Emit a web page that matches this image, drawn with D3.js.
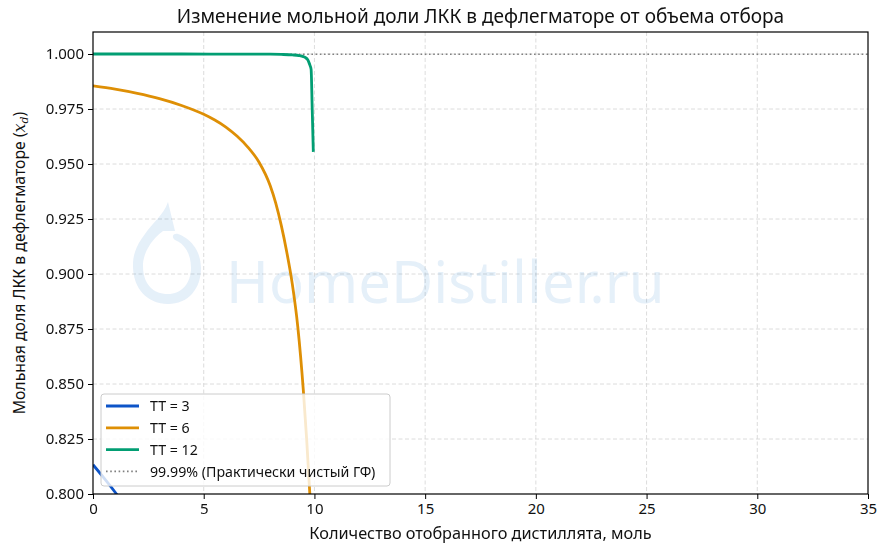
<!DOCTYPE html>
<html>
<head>
<meta charset="utf-8">
<script src="https://cdn.jsdelivr.net/npm/d3@7"></script>
<style>
  body { margin: 0; background: #fff; }
  svg { font-family: "Noto Sans", sans-serif; }
</style>
</head>
<body>
<div class="chart"></div>
<script>
// values
const seriesNames = ['TT = 3', 'TT = 6', 'TT = 12'];
const seriesColors = ['#0d54c8', '#de8f05', '#029e73'];

const tt3X = [0, 0.5, 1, 1.5, 2];
const tt3Y = [0.8133, 0.8072, 0.8008, 0.794, 0.787];

const tt6X = [0, 1, 2, 3, 4, 5, 5.5, 6, 6.5, 7, 7.5, 8, 8.25, 8.5, 8.75, 9, 9.25, 9.5, 9.65, 9.8, 9.9];
const tt6Y = [0.9855, 0.9840, 0.9821, 0.9797, 0.9766, 0.9726, 0.9700, 0.9668, 0.9627, 0.9576, 0.9508, 0.9402, 0.9323, 0.9222, 0.9100, 0.8955, 0.8759, 0.8470, 0.8247, 0.7987, 0.7787];

const tt12X = [0, 2, 4, 6, 8, 8.5, 9, 9.3, 9.5, 9.6, 9.7, 9.75, 9.8, 9.85, 9.9, 9.95];
const tt12Y = [1.0, 1.0, 1.0, 0.99995, 0.9999, 0.9998, 0.9996, 0.9993, 0.9988, 0.9983, 0.9973, 0.9962, 0.9948, 0.9930, 0.9750, 0.9555];

const purity = 0.9999;
const xTicks = [0, 5, 10, 15, 20, 25, 30, 35];
const yTicks = [0.800, 0.825, 0.850, 0.875, 0.900, 0.925, 0.950, 0.975, 1.000];

function drawChart() {
  const w = 887;
  const h = 551;
  const margin = { top: 32, right: 19, bottom: 57, left: 93 };
  const iw = w - margin.left - margin.right;
  const ih = h - margin.top - margin.bottom;

  const svg = d3.select('.chart')
    .append('svg')
    .attr('width', w)
    .attr('height', h);

  const x = d3.scaleLinear().domain([0, 35]).range([0, iw]);
  const y = d3.scaleLinear().domain([0.8, 1.01]).range([ih, 0]);

  const chart = svg.append('g')
    .attr('transform', `translate(${margin.left}, ${margin.top})`);

  svg.append('defs').append('clipPath')
    .attr('id', 'plot-clip')
    .append('rect')
    .attr('width', iw)
    .attr('height', ih);

  // grid
  chart.append('g')
    .selectAll('line')
    .data(xTicks.slice(1, -1))
    .enter()
    .append('line')
    .attr('x1', d => x(d)).attr('x2', d => x(d))
    .attr('y1', 0).attr('y2', ih)
    .attr('stroke', '#d3d3d3').attr('stroke-width', 0.8)
    .attr('stroke-dasharray', '4,2.5');

  chart.append('g')
    .selectAll('line')
    .data(yTicks.slice(1))
    .enter()
    .append('line')
    .attr('x1', 0).attr('x2', iw)
    .attr('y1', d => y(d)).attr('y2', d => y(d))
    .attr('stroke', '#d3d3d3').attr('stroke-width', 0.8)
    .attr('stroke-dasharray', '4,2.5');

  // watermark
  const wm = chart.append('g').attr('opacity', 0.11).attr('fill', '#1a73c9');
  wm.append('path')
    .attr('d', 'M 75 -72 C 70 -58 60 -52 52 -40 C 42 -27 40 -18 40 -8 C 40 15 55 30 75 30 C 95 30 108 15 108 -6 C 108 -25 96 -36 85 -40 C 80 -41 78 -37 82 -34 C 92 -30 98 -20 98 -6 C 98 10 88 20 75 20 C 60 20 50 10 50 -8 C 50 -22 60 -36 70 -43 L 82 -43 Z')
    .attr('transform', `translate(0, ${y(0.9)})`);
  wm.append('text')
    .attr('x', 133)
    .attr('y', y(0.9) + 29)
    .attr('font-size', 58)
    .text('HomeDistiller.ru');

  // reference line
  chart.append('line')
    .attr('x1', 0).attr('x2', iw)
    .attr('y1', y(purity)).attr('y2', y(purity))
    .attr('stroke', '#808080').attr('stroke-width', 1.6)
    .attr('stroke-dasharray', '1.6,2.6');

  const series = [
    d3.zip(tt3X, tt3Y),
    d3.zip(tt6X, tt6Y),
    d3.zip(tt12X, tt12Y)
  ];
  const curve = d3.line().curve(d3.curveMonotoneX).x(d => x(d[0])).y(d => y(d[1]));

  chart.append('g')
    .attr('clip-path', 'url(#plot-clip)')
    .selectAll('path')
    .data(series)
    .enter()
    .append('path')
    .attr('d', d => curve(d))
    .attr('fill', 'none')
    .attr('stroke', (d, i) => seriesColors[i])
    .attr('stroke-width', 2.8)
    .attr('stroke-linejoin', 'round');

  // axes
  const xAxis = chart.append('g')
    .attr('transform', `translate(0, ${ih})`)
    .call(d3.axisBottom(x).tickValues(xTicks).tickSize(5).tickPadding(4).tickFormat(d3.format('d')));
  const yAxis = chart.append('g')
    .call(d3.axisLeft(y).tickValues(yTicks).tickSize(5).tickPadding(4).tickFormat(d3.format('.3f')));
  [xAxis, yAxis].forEach(a => {
    a.select('.domain').remove();
    a.selectAll('text').attr('font-size', 15).attr('fill', '#111').attr('font-family', '"Noto Sans", sans-serif');
    a.selectAll('line').attr('stroke', '#000').attr('stroke-width', 1);
  });

  chart.append('rect')
    .attr('width', iw).attr('height', ih)
    .attr('fill', 'none').attr('stroke', '#000').attr('stroke-width', 1.2);

  // legend
  const lg = chart.append('g').attr('transform', 'translate(8, 362)');
  lg.append('rect')
    .attr('width', 289).attr('height', 92)
    .attr('rx', 3)
    .attr('fill', 'rgba(255,255,255,0.8)')
    .attr('stroke', '#cccccc').attr('stroke-width', 1);
  const labels = seriesNames.concat(['99.99% (Практически чистый ГФ)']);
  const items = lg.selectAll('g.item')
    .data(labels)
    .enter()
    .append('g')
    .attr('transform', (d, i) => `translate(0, ${12 + i * 21.8})`);
  items.append('line')
    .attr('x1', 5).attr('x2', 38)
    .attr('stroke', (d, i) => i < 3 ? seriesColors[i] : '#808080')
    .attr('stroke-width', (d, i) => i < 3 ? 2.8 : 1.6)
    .attr('stroke-dasharray', (d, i) => i < 3 ? null : '1.6,2.6');
  items.append('text')
    .attr('x', 49).attr('dy', '0.36em')
    .attr('font-size', 14.2)
    .attr('fill', '#111')
    .text(d => d);

  // titles
  svg.append('text')
    .attr('x', margin.left + iw / 2).attr('y', 23)
    .attr('text-anchor', 'middle')
    .attr('font-size', 19)
    .attr('fill', '#111')
    .text('Изменение мольной доли ЛКК в дефлегматоре от объема отбора');

  svg.append('text')
    .attr('x', margin.left + iw / 2).attr('y', 539)
    .attr('text-anchor', 'middle')
    .attr('font-size', 16.3)
    .attr('fill', '#111')
    .text('Количество отобранного дистиллята, моль');

  const yl = svg.append('text')
    .attr('transform', `translate(25, ${margin.top + ih / 2}) rotate(-90)`)
    .attr('text-anchor', 'middle')
    .attr('font-size', 15.8)
    .attr('fill', '#111');
  yl.append('tspan').text('Мольная доля ЛКК в дефлегматоре (');
  yl.append('tspan').attr('font-style', 'italic').attr('font-family', '"DejaVu Serif", serif').text('x');
  yl.append('tspan').attr('font-style', 'italic').attr('font-family', '"DejaVu Serif", serif').attr('font-size', 11).attr('dy', 3).text('d');
  yl.append('tspan').attr('dy', -3).text(')');
}

drawChart();
</script>
</body>
</html>
